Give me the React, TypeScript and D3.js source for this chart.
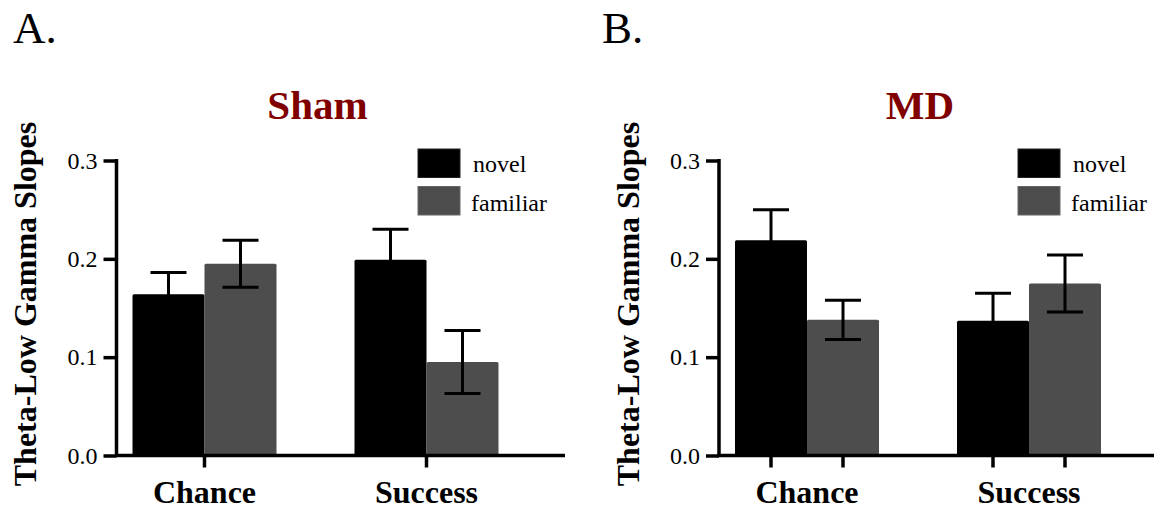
import React, { useEffect, useRef } from 'react';
import * as d3 from 'd3';

// categories and series
const categories = ['Chance', 'Success'];
const seriesNames = ['novel', 'familiar'];
const yTicks = [0, 0.1, 0.2, 0.3];

// Sham panel (A)
const shamNovel = [0.164, 0.199];
const shamNovelErr = [0.022, 0.031];
const shamFamiliar = [0.195, 0.095];
const shamFamiliarErr = [0.024, 0.032];

// MD panel (B)
const mdNovel = [0.219, 0.137];
const mdNovelErr = [0.031, 0.028];
const mdFamiliar = [0.138, 0.175];
const mdFamiliarErr = [0.02, 0.029];

const W = 1154;
const H = 509;
const serif = '"Liberation Serif", "Times New Roman", serif';
const colors = { novel: '#000000', familiar: '#4d4d4d' };

export default function App() {
  const svgRef = useRef(null);

  useEffect(() => {
    const svg = d3.select(svgRef.current);
    svg.selectAll('*').remove();

    const panels = [
      {
        letter: 'A.', letterX: 13, title: 'Sham', axisX: 116.5, axisEnd: 565,
        novel: shamNovel, novelErr: shamNovelErr, familiar: shamFamiliar, familiarErr: shamFamiliarErr,
        legendX: 418, barTicks: false,
      },
      {
        letter: 'B.', letterX: 602, title: 'MD', axisX: 719, axisEnd: W,
        novel: mdNovel, novelErr: mdNovelErr, familiar: mdFamiliar, familiarErr: mdFamiliarErr,
        legendX: 1018, barTicks: true,
      },
    ];

    const y = d3.scaleLinear().domain([0, 0.3]).range([455.5, 160.5]);

    panels.forEach((p) => {
      const g = svg.append('g');

      // group centres
      const x = d3.scalePoint().domain(categories).range([p.axisX + 88, p.axisX + 310]);
      // bar positions inside a group
      const xs = d3.scaleBand().domain(seriesNames).range([-72, 72]).padding(0);

      g.append('text')
        .attr('x', p.letterX)
        .attr('y', 43)
        .attr('font-family', serif)
        .attr('font-size', 45)
        .text(p.letter);

      g.append('text')
        .attr('x', p.axisX + 201)
        .attr('y', 119)
        .attr('text-anchor', 'middle')
        .attr('font-family', serif)
        .attr('font-weight', 'bold')
        .attr('font-size', 41)
        .attr('fill', '#800000')
        .text(p.title);

      // y label
      g.append('text')
        .attr('transform', `translate(${p.axisX - 80.5},304) rotate(-90)`)
        .attr('text-anchor', 'middle')
        .attr('font-family', serif)
        .attr('font-weight', 'bold')
        .attr('font-size', 32)
        .text('Theta-Low Gamma Slopes');

      // bars
      const rows = categories.flatMap((c, i) => [
        { cat: c, s: 'novel', v: p.novel[i], e: p.novelErr[i] },
        { cat: c, s: 'familiar', v: p.familiar[i], e: p.familiarErr[i] },
      ]);

      g.selectAll('rect.bar')
        .data(rows)
        .enter()
        .append('rect')
        .attr('class', 'bar')
        .attr('x', (d) => x(d.cat) + xs(d.s))
        .attr('y', (d) => y(d.v))
        .attr('width', xs.bandwidth())
        .attr('height', (d) => y(0) - y(d.v))
        .attr('rx', 1.5)
        .attr('fill', (d) => colors[d.s]);

      // error bars
      const eb = g.selectAll('g.err').data(rows).enter().append('g').attr('class', 'err')
        .attr('stroke', '#000').attr('stroke-width', 3);
      const cx = (d) => x(d.cat) + xs(d.s) + xs.bandwidth() / 2;
      eb.append('line')
        .attr('x1', cx).attr('x2', cx)
        .attr('y1', (d) => y(d.v + d.e)).attr('y2', (d) => y(d.v - d.e));
      eb.append('line')
        .attr('x1', (d) => cx(d) - 18).attr('x2', (d) => cx(d) + 18)
        .attr('y1', (d) => y(d.v + d.e)).attr('y2', (d) => y(d.v + d.e));
      eb.append('line')
        .attr('x1', (d) => cx(d) - 18).attr('x2', (d) => cx(d) + 18)
        .attr('y1', (d) => y(d.v - d.e)).attr('y2', (d) => y(d.v - d.e));

      // y axis
      const yAxis = g.append('g').attr('transform', `translate(${p.axisX},0)`)
        .call(d3.axisLeft(y).tickValues(yTicks).tickFormat(d3.format('.1f')).tickSize(13).tickPadding(6));
      yAxis.select('.domain').attr('stroke-width', 3.5).attr('d', `M0,${y(0.3) - 1.5}V${y(0)}`);
      yAxis.selectAll('.tick line').attr('stroke-width', 3.5);
      yAxis.selectAll('.tick text')
        .attr('font-family', serif)
        .attr('font-size', 24)
        .attr('fill', '#000');

      // x axis
      g.append('line')
        .attr('x1', p.axisX - 1.5).attr('x2', p.axisEnd)
        .attr('y1', y(0)).attr('y2', y(0))
        .attr('stroke', '#000').attr('stroke-width', 3.5);

      const tickXs = p.barTicks
        ? rows.map((d) => cx(d))
        : categories.map((c) => x(c));
      g.selectAll('line.xtick')
        .data(tickXs)
        .enter()
        .append('line')
        .attr('class', 'xtick')
        .attr('x1', (d) => d).attr('x2', (d) => d)
        .attr('y1', y(0)).attr('y2', y(0) + 12)
        .attr('stroke', '#000').attr('stroke-width', 3.5);

      g.selectAll('text.cat')
        .data(categories)
        .enter()
        .append('text')
        .attr('class', 'cat')
        .attr('x', (d) => x(d))
        .attr('y', 503)
        .attr('text-anchor', 'middle')
        .attr('font-family', serif)
        .attr('font-weight', 'bold')
        .attr('font-size', 32)
        .text((d) => d);

      // legend
      const lg = g.append('g').attr('transform', `translate(${p.legendX},0)`);
      seriesNames.forEach((s, i) => {
        lg.append('rect')
          .attr('x', 0)
          .attr('y', 149 + i * 37.5)
          .attr('width', 42)
          .attr('height', 28.5)
          .attr('fill', colors[s])
          .attr('stroke', s === 'novel' ? '#222' : '#666')
          .attr('stroke-width', 1);
        lg.append('text')
          .attr('x', s === 'novel' ? 55 : 53)
          .attr('y', 171.5 + i * 39)
          .attr('font-family', serif)
          .attr('font-size', 24)
          .text(s);
      });
    });
  }, []);

  return (
    <svg
      ref={svgRef}
      width={W}
      height={H}
      style={{ position: 'absolute', left: 0, top: 0, background: '#fff' }}
    />
  );
}
